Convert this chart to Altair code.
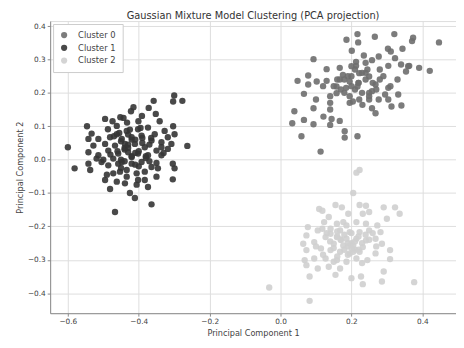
import altair as alt
import pandas as pd

# Cluster points (PCA coordinates)
c1_x = [-0.3, -0.277, -0.303, -0.358, -0.415, -0.372, -0.422, -0.391, -0.352, -0.452, -0.495, -0.474, -0.546,
        -0.341, -0.303, -0.487, -0.462, -0.433, -0.401, -0.533, -0.462, -0.434, -0.402, -0.374, -0.355, -0.327,
        -0.299, -0.318, -0.514, -0.481, -0.448, -0.42, -0.392, -0.364, -0.336, -0.308, -0.263, -0.6, -0.528,
        -0.495, -0.467, -0.439, -0.411, -0.383, -0.35, -0.318, -0.542, -0.514, -0.486, -0.458, -0.43, -0.402,
        -0.374, -0.336, -0.304, -0.581, -0.542, -0.537, -0.505, -0.486, -0.448, -0.42, -0.392, -0.364, -0.346,
        -0.299, -0.472, -0.453, -0.434, -0.406, -0.383, -0.35, -0.304, -0.462, -0.439, -0.481, -0.406, -0.374,
        -0.425, -0.411, -0.364, -0.467, -0.519, -0.472, -0.42, -0.434, -0.402, -0.495, -0.383, -0.336, -0.443,
        -0.542, -0.458, -0.44, -0.41, -0.45, -0.39, -0.42, -0.4, -0.43, -0.38,
        -0.47, -0.45, -0.43, -0.41, -0.39, -0.37, -0.46, -0.44, -0.42, -0.40, -0.38, -0.48, -0.44, -0.41,
        -0.37, -0.455, -0.425, -0.395, -0.365, -0.50, -0.35, -0.33, -0.49, -0.45, -0.43]
c1_y = [0.192, 0.176, 0.174, 0.176, 0.157, 0.155, 0.145, 0.131, 0.137, 0.127, 0.122, 0.115, 0.1, 0.115, 0.1,
        0.091, 0.101, 0.111, 0.115, 0.078, 0.076, 0.086, 0.091, 0.096, 0.076, 0.086, 0.076, 0.067, 0.062, 0.067,
        0.062, 0.067, 0.072, 0.057, 0.052, 0.047, 0.041, 0.037, 0.042, 0.047, 0.042, 0.047, 0.047, 0.037, 0.027,
        0.032, 0.022, 0.013, 0.027, 0.018, 0.022, 0.018, 0.013, 0.013, -0.012, -0.026, -0.012, -0.031, -0.007,
        -0.017, -0.007, -0.012, -0.007, -0.022, -0.026, -0.026, -0.041, -0.036, -0.051, -0.041, -0.036, -0.051,
        -0.059, -0.066, -0.071, -0.088, -0.075, -0.082, -0.1, -0.115, -0.134, -0.157, 0.003, 0.003, 0.008,
        -0.031, -0.061, -0.061, -0.061, 0.037, 0.125, 0.062, -0.012, 0.03, 0.02, 0.0, 0.05, 0.06, -0.02, 0.035,
        0.01,
        0.07, 0.055, 0.075, 0.06, 0.065, 0.045, 0.025, 0.035, 0.01, 0.025, 0.005, 0.015, -0.005, -0.015,
        -0.005, 0.08, 0.09, 0.095, 0.065, 0.0, -0.01, 0.02, -0.045, -0.025, 0.045]

c0_x = [0.217, 0.321, 0.266, 0.186, 0.219, 0.374, 0.371, 0.447, 0.201, 0.303, 0.344, 0.311, 0.235, 0.277,
        0.323, 0.093, 0.258, 0.213, 0.304, 0.34, 0.363, 0.391, 0.421, 0.354, 0.13, 0.167, 0.213, 0.245, 0.222,
        0.176, 0.25, 0.078, 0.048, 0.102, 0.13, 0.167, 0.195, 0.24, 0.268, 0.304, 0.078, 0.158, 0.185, 0.217,
        0.295, 0.332, 0.066, 0.158, 0.195, 0.222, 0.25, 0.277, 0.304, 0.14, 0.195, 0.231, 0.258, 0.313, 0.341,
        0.093, 0.039, 0.121, 0.144, 0.167, 0.268, 0.066, 0.033, 0.093, 0.14, 0.181, 0.181, 0.217, 0.059, 0.113,
        0.258, 0.204, 0.14, 0.2, 0.22, 0.18, 0.23, 0.21, 0.25,
        0.16, 0.19, 0.21, 0.24, 0.26, 0.28, 0.17, 0.2, 0.23, 0.27, 0.29, 0.15, 0.18, 0.22, 0.25, 0.31, 0.12,
        0.2, 0.24, 0.28, 0.1, 0.14, 0.33, 0.36]
c0_y = [0.376, 0.376, 0.368, 0.359, 0.351, 0.365, 0.355, 0.351, 0.326, 0.332, 0.332, 0.324, 0.312, 0.309,
        0.304, 0.301, 0.298, 0.293, 0.281, 0.285, 0.281, 0.275, 0.266, 0.264, 0.271, 0.275, 0.281, 0.27, 0.259,
        0.254, 0.249, 0.252, 0.236, 0.234, 0.236, 0.24, 0.234, 0.24, 0.225, 0.215, 0.225, 0.219, 0.215, 0.219,
        0.195, 0.195, 0.197, 0.199, 0.19, 0.18, 0.19, 0.18, 0.18, 0.17, 0.17, 0.164, 0.154, 0.159, 0.162, 0.154,
        0.145, 0.129, 0.122, 0.116, 0.139, 0.119, 0.109, 0.106, 0.104, 0.085, 0.066, 0.07, 0.07, 0.024, 0.205,
        0.174, 0.19, 0.25, 0.23, 0.24, 0.26, 0.21, 0.2,
        0.24, 0.25, 0.27, 0.26, 0.23, 0.24, 0.21, 0.22, 0.2, 0.21, 0.25, 0.22, 0.2, 0.23, 0.18, 0.22, 0.22,
        0.28, 0.29, 0.27, 0.18, 0.15, 0.24, 0.28]

c2_x = [0.223, 0.214, 0.205, 0.155, 0.173, 0.109, 0.118, 0.223, 0.241, 0.291, 0.323, 0.336, 0.191, 0.232,
        0.25, 0.3, 0.136, 0.123, 0.159, 0.186, 0.214, 0.241, 0.273, 0.077, 0.105, 0.141, 0.168, 0.195, 0.223,
        0.25, 0.282, 0.073, 0.127, 0.159, 0.186, 0.214, 0.241, 0.268, 0.064, 0.095, 0.15, 0.177, 0.205, 0.232,
        0.286, 0.073, 0.114, 0.141, 0.168, 0.195, 0.223, 0.268, 0.309, 0.068, 0.095, 0.127, 0.159, 0.186, 0.214,
        0.245, 0.309, 0.073, 0.105, 0.136, 0.168, 0.082, 0.155, 0.2, 0.227, 0.291, 0.286, 0.232, 0.377, -0.032,
        0.082, 0.141, 0.177, 0.118, 0.205, 0.15, 0.2, 0.19, 0.17, 0.21, 0.16,
        0.13, 0.16, 0.18, 0.2, 0.22, 0.24, 0.26, 0.14, 0.17, 0.19, 0.21, 0.23, 0.25, 0.15, 0.18, 0.2, 0.22,
        0.12, 0.27, 0.1, 0.16, 0.19, 0.23]
c2_y = [-0.031, -0.039, -0.1, -0.136, -0.143, -0.148, -0.153, -0.136, -0.138, -0.143, -0.143, -0.162,
        -0.162, -0.162, -0.157, -0.177, -0.172, -0.187, -0.192, -0.197, -0.187, -0.192, -0.197, -0.202, -0.212,
        -0.207, -0.212, -0.217, -0.217, -0.212, -0.217, -0.227, -0.232, -0.232, -0.237, -0.237, -0.242, -0.237,
        -0.252, -0.247, -0.252, -0.257, -0.257, -0.262, -0.252, -0.271, -0.266, -0.271, -0.276, -0.281, -0.276,
        -0.281, -0.271, -0.301, -0.296, -0.296, -0.301, -0.306, -0.296, -0.301, -0.298, -0.316, -0.326, -0.321,
        -0.326, -0.35, -0.345, -0.355, -0.35, -0.335, -0.365, -0.373, -0.367, -0.383, -0.423, -0.222, -0.187,
        -0.207, -0.276, -0.306, -0.25, -0.26, -0.24, -0.27, -0.23,
        -0.22, -0.215, -0.225, -0.22, -0.23, -0.225, -0.22, -0.245, -0.24, -0.25, -0.245, -0.25, -0.24,
        -0.265, -0.27, -0.265, -0.27, -0.285, -0.26, -0.26, -0.29, -0.285, -0.31]

clusters = ["Cluster 0", "Cluster 1", "Cluster 2"]
colors = ["#6e6e6e", "#353535", "#cfcfcf"]

rows = []
for name, xs, ys in [(clusters[0], c0_x, c0_y), (clusters[1], c1_x, c1_y), (clusters[2], c2_x, c2_y)]:
    n = min(len(xs), len(ys))
    for i in range(n):
        rows.append({"pc1": xs[i], "pc2": ys[i], "cluster": name})
df = pd.DataFrame(rows)

x_ticks = [-0.6, -0.4, -0.2, 0.0, 0.2, 0.4]
y_ticks = [-0.4, -0.3, -0.2, -0.1, 0.0, 0.1, 0.2, 0.3, 0.4]

axis_style = dict(format=".1f", labelFontSize=7.5, titleFontSize=8.3, tickSize=3, labelPadding=2,
                  titlePadding=3, gridColor="#dddddd", domainColor="#888888", tickColor="#888888",
                  labelColor="#444444", titleColor="#444444", titleFontWeight="normal")

chart = alt.Chart(df).mark_circle(size=42, opacity=0.9).encode(
    x=alt.X("pc1:Q", title="Principal Component 1",
            scale=alt.Scale(domain=[-0.65, 0.495], nice=False, zero=False),
            axis=alt.Axis(values=x_ticks, **axis_style)),
    y=alt.Y("pc2:Q", title="Principal Component 2",
            scale=alt.Scale(domain=[-0.46, 0.415], nice=False, zero=False),
            axis=alt.Axis(values=y_ticks, **axis_style)),
    color=alt.Color("cluster:N", scale=alt.Scale(domain=clusters, range=colors),
                    legend=alt.Legend(title=None, orient="top-left", labelFontSize=8.5,
                                      symbolSize=40, symbolOpacity=0.9, fillColor="white",
                                      strokeColor="#cccccc", padding=7, rowPadding=4,
                                      labelColor="#444444", offset=3, labelOffset=10)),
).properties(
    width=414, height=298,
    title=alt.TitleParams("Gaussian Mixture Model Clustering (PCA projection)", fontSize=10,
                          fontWeight="normal", color="#333333", offset=0),
    padding={"left": 7, "top": 0, "right": 0, "bottom": 0},
).configure_view(stroke="#999999").configure(font="DejaVu Sans")

chart.save("out.html", embed_options={"renderer": "svg", "actions": False})
